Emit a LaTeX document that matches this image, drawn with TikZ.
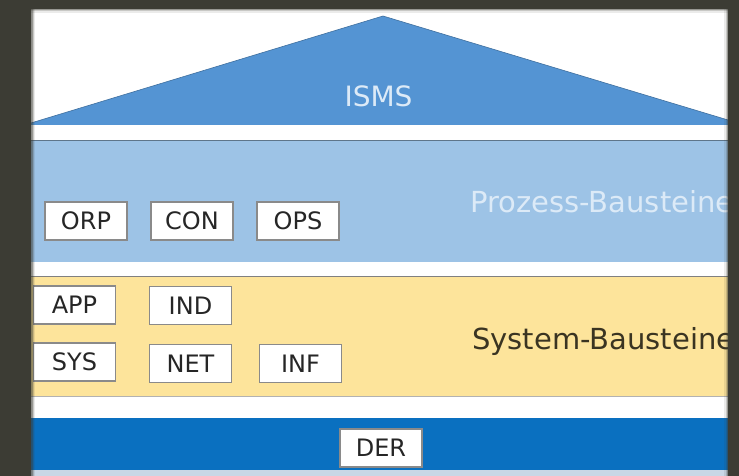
\documentclass[tikz,border=0pt]{standalone}
\usepackage{fontspec}
\setmainfont{DejaVu Sans}
\usepackage{tikz}
\usetikzlibrary{positioning}

\definecolor{framegray}{HTML}{3C3C34}
\definecolor{roofblue}{HTML}{5494D3}
\definecolor{procblue}{HTML}{9DC3E6}
\definecolor{sysyellow}{HTML}{FDE49B}
\definecolor{derblue}{HTML}{0A70C0}
\definecolor{footblue}{HTML}{C9D7E6}
\definecolor{boxline}{HTML}{8A8A8A}
\definecolor{boxtext}{HTML}{262626}
\definecolor{paletext}{HTML}{DCEAF7}
\definecolor{darktext}{HTML}{3A3422}

\begin{document}
\begin{tikzpicture}[
  x=1pt,
  y=-1pt,
  node distance=106pt
]

  \useasboundingbox (0,0) rectangle (739,476);

  \tikzstyle{modnode}=[draw=boxline,fill=white,rectangle,line width=1.1pt,minimum width=82pt,minimum height=38pt,inner sep=0pt,text=boxtext,font=\fontsize{24}{24}\selectfont]
  \tikzstyle{layerlab}=[anchor=base west,inner sep=0pt,font=\fontsize{29}{29}\selectfont]
  \tikzstyle{sepline}=[line width=1pt]

  % panel
  \fill[white] (31,9) rectangle (728,476);

  % roof
  \fill[roofblue] (31,123) -- (383,16) -- (728,120) -- (728,125) -- (31,125) -- cycle;
  \draw[roofblue!75!black, line width=0.6pt] (31,123) -- (383,16) -- (728,120);
  \node[anchor=base,inner sep=0pt,text=paletext,font=\fontsize{28}{28}\selectfont] (isms) at (378.5,107) {ISMS};

  % layers
  \fill[procblue] (31,141) rectangle (728,262);
  \draw[sepline,procblue!60!black] (31,141) -- (728,141);
  \fill[sysyellow] (31,276) rectangle (728,396);
  \draw[sepline,gray] (31,276) -- (728,276);
  \draw[sepline,gray!60] (31,396) -- (728,396);
  \fill[derblue] (31,418) rectangle (728,470);
  \fill[footblue] (31,470) rectangle (728,476);

  \node[layerlab,text=paletext] (proz) at (470,212) {Prozess-Bausteine};
  \node[layerlab,text=darktext] (sys) at (472,349) {System-Bausteine};

  % nodes
  \node[modnode] (orp) at (86,221) {ORP};
  \node[modnode] (con) [right of=orp] {CON};
  \node[modnode] (ops) [right of=con] {OPS};

  \node[modnode] (app) at (74.5,305) {APP};
  \node[modnode] (ind) at (190.5,305.5) {IND};
  \node[modnode] (sysb) at (74.5,362) {SYS};
  \node[modnode] (net) at (190.5,363.5) {NET};
  \node[modnode] (inf) at (300.5,363.5) {INF};

  \node[modnode] (der) at (381,448) {DER};

  % frame
  \foreach \d/\op in {8/0.1,5/0.2,3/0.35} {
    \draw[framegray,opacity=\op,line width=\d pt] (31,9) -- (728,9);
    \draw[framegray,opacity=\op,line width=\d pt] (31,9) -- (31,476);
    \draw[framegray,opacity=\op,line width=\d pt] (728,9) -- (728,476);
  }
  \fill[framegray,even odd rule] (0,0) rectangle (739,476) (31,9) rectangle (728,476);

\end{tikzpicture}
\end{document}
